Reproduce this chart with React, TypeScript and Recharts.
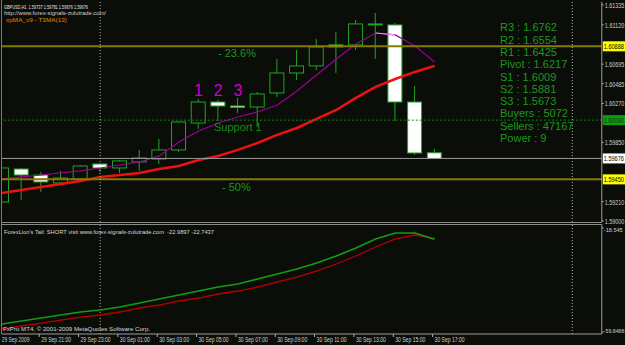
import React from "react";
import {
  ComposedChart,
  Bar,
  Line,
  XAxis,
  YAxis,
  ReferenceLine,
  ReferenceDot,
} from "recharts";

// hourly bars, 29 Sep 19:00 -> 30 Sep 17:00, plus empty slots to the right
const times = [
  "29 Sep 19:00", "29 Sep 20:00", "29 Sep 21:00", "29 Sep 22:00", "29 Sep 23:00",
  "30 Sep 00:00", "30 Sep 01:00", "30 Sep 02:00", "30 Sep 03:00", "30 Sep 04:00",
  "30 Sep 05:00", "30 Sep 06:00", "30 Sep 07:00", "30 Sep 08:00", "30 Sep 09:00",
  "30 Sep 10:00", "30 Sep 11:00", "30 Sep 12:00", "30 Sep 13:00", "30 Sep 14:00",
  "30 Sep 15:00", "30 Sep 16:00", "30 Sep 17:00",
  "30 Sep 18:00", "30 Sep 19:00", "30 Sep 20:00", "30 Sep 21:00", "30 Sep 22:00",
  "30 Sep 23:00", "01 Oct 00:00", "01 Oct 01:00",
];

const opens = [
  1.59205, 1.59562, 1.59497, 1.59411, 1.59454, 1.59616, 1.59573, 1.59638, 1.5967,
  1.59768, 1.60059, 1.60286, 1.60243, 1.60232, 1.60384, 1.606, 1.60676, 1.60903,
  1.60903, 1.61125, 1.61119, 1.60286, 1.59737,
];
const highs = [
  1.59584, 1.59573, 1.5953, 1.59541, 1.59605, 1.59627, 1.59659, 1.59768, 1.59886,
  1.60081, 1.60319, 1.60308, 1.6033, 1.60395, 1.60751, 1.60849, 1.60967, 1.61043,
  1.61173, 1.61249, 1.6114, 1.60459, 1.59781,
];
const lows = [
  1.59032, 1.59227, 1.59313, 1.594, 1.59443, 1.5953, 1.59519, 1.59541, 1.59616,
  1.59746, 1.59995, 1.60081, 1.60168, 1.60016, 1.6034, 1.60524, 1.60632, 1.606,
  1.60849, 1.60751, 1.60081, 1.59714, 1.59676,
];
const closes = [
  1.59573, 1.59497, 1.59422, 1.59465, 1.59595, 1.59573, 1.59649, 1.59681, 1.59768,
  1.6007, 1.60286, 1.60243, 1.60227, 1.60373, 1.606, 1.60676, 1.60881, 1.60881,
  1.6113, 1.6113, 1.60286, 1.59735, 1.59676,
];

// xpMA_v9 - T3MA(13)
const t3ma = [
  1.59454, 1.59476, 1.59497, 1.59519, 1.59541, 1.59573, 1.59605, 1.59638, 1.59703,
  1.59854, 1.59973, 1.60059, 1.60124, 1.60178, 1.60254, 1.60405, 1.60578, 1.60751,
  1.60913, 1.61032, 1.61011, 1.60892, 1.60719,
];
const t3maDown = [
  null, null, null, null, null, null, null, null, null, null, null, null, null,
  null, null, null, null, null, null, 1.61032, 1.61011, null, null,
];
// red slow MA
const slowMa = [
  1.59303, 1.59335, 1.59368, 1.594, 1.59432, 1.59476, 1.59497, 1.59519, 1.59562,
  1.59595, 1.59659, 1.59703, 1.59768, 1.59843, 1.5993, 1.60005, 1.60103, 1.602,
  1.6033, 1.60449, 1.60535, 1.60611, 1.60676,
];

// ForexLion's Tail sub-window
const tailGreen = [
  -56.68, -55.49, -54.29, -53.1, -51.91, -51.12, -49.92, -48.34, -46.75, -45.16,
  -43.57, -41.98, -40.79, -38.8, -36.82, -34.83, -32.45, -29.67, -26.49, -22.91,
  -20.53, -20.53, -22.9897,
];
const tailRed = [
  -58.66, -57.47, -56.28, -55.09, -53.9, -53.1, -51.91, -50.32, -49.13, -47.54,
  -46.35, -44.76, -43.57, -41.98, -39.99, -38.01, -35.63, -32.85, -29.67, -26.09,
  -22.91, -21.33, -22.7437,
];

const xTickTimes = [
  "29 Sep 19:00", "29 Sep 21:00", "29 Sep 23:00", "30 Sep 01:00", "30 Sep 03:00",
  "30 Sep 05:00", "30 Sep 07:00", "30 Sep 09:00", "30 Sep 11:00", "30 Sep 13:00",
  "30 Sep 15:00", "30 Sep 17:00",
];
const xTickLabels = [
  "29 Sep 2009", "29 Sep 21:00", "29 Sep 23:00", "30 Sep 01:00", "30 Sep 03:00",
  "30 Sep 05:00", "30 Sep 07:00", "30 Sep 09:00", "30 Sep 11:00", "30 Sep 13:00",
  "30 Sep 15:00", "30 Sep 17:00",
];
const priceTicks = [1.61335, 1.6112, 1.60695, 1.60485, 1.6027, 1.5985, 1.5921, 1.59];
const tailTicks = [-18.545, -59.8488];

const daySeparators = ["30 Sep 00:00", "01 Oct 00:00"];
const fibUpper = 1.60888;
const fibLower = 1.5945;
const bidPrice = 1.59676;
const support1 = 1.6009;
const waveMarks = [
  { t: "30 Sep 05:00", price: 1.60416, label: "1" },
  { t: "30 Sep 06:00", price: 1.60416, label: "2" },
  { t: "30 Sep 07:00", price: 1.60416, label: "3" },
];
const pivotLines = [
  "R3 : 1.6762", "R2 : 1.6554", "R1 : 1.6425", "Pivot : 1.6217", "S1 : 1.6009",
  "S2 : 1.5881", "S3 : 1.5673", "Buyers : 5072", "Sellers : 47167", "Power : 9",
];

const BG = "#0a0d08";
const CANDLE = "#22a522";
const TXT_GREEN = "#1f961f";
const FONT = "'Liberation Sans', Arial, sans-serif";
const NARROW = "'Liberation Sans Narrow', 'Liberation Sans', Arial, sans-serif";

const Candle = (props: any) => {
  const { x, y, width, height, payload } = props;
  if (!payload || payload.open == null) return null;
  const { open, close, high, low } = payload;
  const top = Math.min(y, y + height);
  const h = Math.abs(height);
  const toY = (v: number) => top + ((high - v) / (high - low)) * h;
  const cx = x + width / 2;
  const yo = toY(open);
  const yc = toY(close);
  const bear = close < open;
  const bodyTop = Math.min(yo, yc);
  const bodyH = Math.max(Math.abs(yo - yc), 1);
  return (
    <g>
      <line x1={cx} x2={cx} y1={top} y2={top + h} stroke={CANDLE} strokeWidth={1} />
      <rect
        x={x + 0.5}
        y={bodyTop}
        width={width - 1}
        height={bodyH}
        fill={bear ? "#ffffff" : BG}
        stroke={CANDLE}
        strokeWidth={1}
      />
    </g>
  );
};

const priceTag = (bg: string, fg: string, text: string) => (props: any) => {
  const vb = props.viewBox || {};
  const x = (vb.x ?? 0) + (vb.width ?? 0);
  const y = vb.y ?? 0;
  return (
    <g>
      <rect x={x + 1} y={y - 5} width={26} height={10} fill={bg} />
      <text
        x={x + 2}
        y={y + 3}
        fontSize={6.6}
        fill={fg}
        fontFamily={NARROW}
        textLength={20}
        lengthAdjust="spacingAndGlyphs"
      >
        {text}
      </text>
    </g>
  );
};

const PriceTick = (props: any) => {
  const { x, y, payload } = props;
  return (
    <g>
      <line x1={x} x2={x + 2} y1={y} y2={y} stroke="#a0a0a0" />
      <text
        x={x + 3}
        y={y + 3}
        fontSize={6.6}
        fill="#d0d0d0"
        fontFamily={NARROW}
        textLength={19.5}
        lengthAdjust="spacingAndGlyphs"
      >
        {Number(payload.value).toFixed(5)}
      </text>
    </g>
  );
};

const TailTick = (props: any) => {
  const { x, y, payload } = props;
  const s = String(payload.value);
  const top = payload.value > -30;
  return (
    <g>
      <line x1={x} x2={x + 2} y1={y} y2={y} stroke="#a0a0a0" />
      <text
        x={x + 2}
        y={top ? y + 4 : y + 1}
        fontSize={6.2}
        fill="#d0d0d0"
        fontFamily={NARROW}
        textLength={Math.min(s.length * 2.7, 20.5)}
        lengthAdjust="spacingAndGlyphs"
      >
        {s}
      </text>
    </g>
  );
};

const TimeTick = (props: any) => {
  const { x, y, payload } = props;
  const k = xTickTimes.indexOf(payload.value);
  if (k < 0) return <g />;
  const label = xTickLabels[k];
  return (
    <g>
      <line x1={x - 2} x2={x - 2} y1={y} y2={y + 3} stroke="#b0b0b0" />
      <text
        x={x}
        y={y + 8}
        fontSize={6.5}
        fill="#d0d0d0"
        fontFamily={FONT}
        textLength={label.length * 2.5}
        lengthAdjust="spacingAndGlyphs"
      >
        {label}
      </text>
    </g>
  );
};

const smallText = (x: number, y: number, len: number, fill: string, s: string) => (
  <text
    x={x}
    y={y}
    fontSize={6}
    fill={fill}
    fontFamily={FONT}
    textLength={len}
    lengthAdjust="spacingAndGlyphs"
  >
    {s}
  </text>
);

export default function App() {
  const data = times.map((t, i) => ({
    t,
    open: opens[i],
    high: highs[i],
    low: lows[i],
    close: closes[i],
    ma: t3ma[i],
    maDn: t3maDown[i],
    slow: slowMa[i],
    g: tailGreen[i],
    r: tailRed[i],
  }));

  return (
    <div
      style={{
        position: "fixed",
        left: 0,
        top: 0,
        width: 625,
        height: 345,
        background: BG,
        overflow: "hidden",
        fontFamily: FONT,
      }}
    >
      {/* main price window */}
      <div style={{ position: "absolute", left: 2, top: 0, width: 623, height: 224, overflow: "hidden" }}>
        <div style={{ position: "absolute", left: -9.8, top: 0 }}>
          <ComposedChart
            width={632.8}
            height={224}
            data={data}
            margin={{ top: 2, right: 0, bottom: 2, left: 0 }}
          >
            <XAxis dataKey="t" type="category" scale="band" hide />
            <YAxis
              orientation="right"
              type="number"
              domain={[1.58989, 1.61367]}
              allowDataOverflow
              ticks={priceTicks}
              interval={0}
              width={23}
              tickSize={0}
              tickMargin={0}
              tickLine={false}
              axisLine={{ stroke: "#a0a0a0" }}
              tick={<PriceTick />}
            />
            <Bar
              dataKey={(d: any) => (d.high == null ? null : [d.low, d.high])}
              barSize={15}
              shape={(p: any) => <Candle {...p} />}
              isAnimationActive={false}
            />
            <Line dataKey="slow" stroke="#ee1111" strokeWidth={2.5} dot={false} activeDot={false} isAnimationActive={false} />
            <Line dataKey="ma" stroke="#9a009a" strokeWidth={1.2} dot={false} activeDot={false} isAnimationActive={false} />
            <Line dataKey="maDn" stroke="#ff80ff" strokeWidth={1.2} dot={false} activeDot={false} isAnimationActive={false} />
            <ReferenceLine y={bidPrice} stroke="#9a9a9a" label={priceTag("#ffffff", "#000000", "1.59676")} />
            <ReferenceLine y={support1} stroke="#138a13" strokeDasharray="2 2" label={priceTag("#139a13", "#063806", "1.60090")} />
            <ReferenceLine y={fibUpper} stroke="#867a00" strokeWidth={2} label={priceTag("#ffff00", "#000000", "1.60888")} />
            <ReferenceLine y={fibLower} stroke="#867a00" strokeWidth={2} label={priceTag("#ffff00", "#000000", "1.59450")} />
            {daySeparators.map((d) => (
              <ReferenceLine key={d} x={d} stroke="#b8b8b8" strokeDasharray="1 2" />
            ))}
            {waveMarks.map((m) => (
              <ReferenceDot
                key={m.label}
                x={m.t}
                y={m.price}
                r={0}
                fill="none"
                stroke="none"
                label={{ value: m.label, position: "center", fill: "#cc00cc", fontSize: 16, fontFamily: FONT }}
              />
            ))}
          </ComposedChart>
        </div>
      </div>

      {/* indicator sub-window */}
      <div style={{ position: "absolute", left: 2, top: 224, width: 623, height: 121, overflow: "hidden" }}>
        <div style={{ position: "absolute", left: -9.8, top: 0 }}>
          <ComposedChart
            width={632.8}
            height={121}
            data={data}
            margin={{ top: 0, right: 0, bottom: 0, left: 0 }}
          >
            <XAxis
              dataKey="t"
              type="category"
              scale="band"
              height={11}
              interval={0}
              tickSize={0}
              tickMargin={0}
              tickLine={false}
              axisLine={{ stroke: "#a0a0a0" }}
              tick={<TimeTick />}
            />
            <YAxis
              orientation="right"
              type="number"
              domain={[-60.64, -16.96]}
              allowDataOverflow
              ticks={tailTicks}
              interval={0}
              width={23}
              tickSize={0}
              tickMargin={0}
              tickLine={false}
              axisLine={{ stroke: "#a0a0a0" }}
              tick={<TailTick />}
            />
            {daySeparators.map((d) => (
              <ReferenceLine key={d} x={d} stroke="#b8b8b8" strokeDasharray="1 2" />
            ))}
            <Line dataKey="r" stroke="#b40000" strokeWidth={1.3} dot={false} activeDot={false} isAnimationActive={false} />
            <Line dataKey="g" stroke="#149c14" strokeWidth={1.6} dot={false} activeDot={false} isAnimationActive={false} />
          </ComposedChart>
        </div>
      </div>

      {/* window frame and labels */}
      <svg
        width={625}
        height={345}
        style={{ position: "absolute", left: 0, top: 0, pointerEvents: "none" }}
      >
        <line x1={1.5} y1={0} x2={1.5} y2={334} stroke="#7a7a7a" />
        <line x1={1} y1={222.5} x2={602} y2={222.5} stroke="#8a8a8a" />
        <line x1={1} y1={224.5} x2={602} y2={224.5} stroke="#8a8a8a" />
        {smallText(4, 8.5, 84, "#e6e6e6", "GBPUSD,H1\u00a0\u00a01.59737 1.59781 1.59676 1.59676")}
        {smallText(4, 15.3, 102, "#cfcfcf", "http://www.forex-signals-zulutrade.com/")}
        {smallText(6, 22.1, 61, "#e08a00", "xpMA_v9 - T3MA(13)")}
        {pivotLines.map((s, k) => (
          <text key={s} x={500} y={31.3 + 12.3 * k} fontSize={11} fill={TXT_GREEN} fontFamily={FONT}>
            {s}
          </text>
        ))}
        <text x={218} y={57} fontSize={11} fill={TXT_GREEN} fontFamily={FONT}>- 23.6%</text>
        <text x={222} y={191} fontSize={11} fill={TXT_GREEN} fontFamily={FONT}>- 50%</text>
        <text x={214} y={131} fontSize={11} fill="#1a8a1a" fontFamily={FONT}>Support 1</text>
        {smallText(4, 233.5, 210, "#d8d8d8", "ForexLion's Tail: SHORT visit www.forex-signals-zulutrade.com\u00a0\u00a0-22.9897 -22.7437")}
        {smallText(3, 331, 147, "#d8d8d8", "FxPro MT4, \u00a9 2001-2009 MetaQuotes Software Corp.")}
      </svg>
    </div>
  );
}
